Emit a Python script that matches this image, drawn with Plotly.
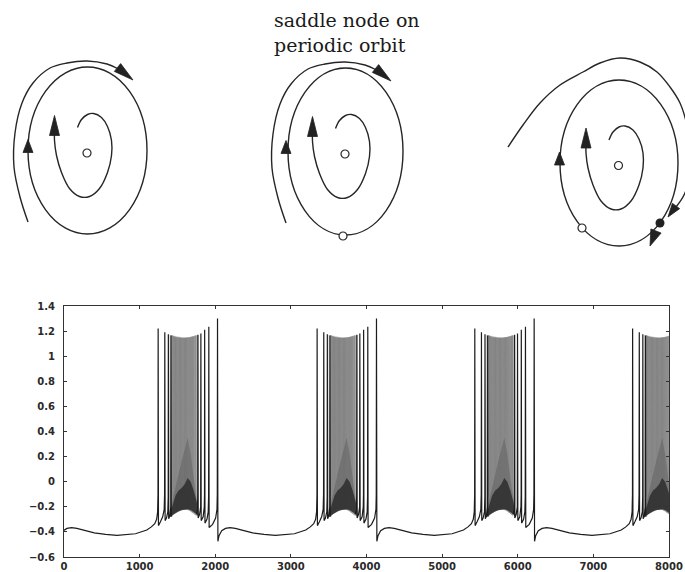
import plotly.graph_objects as go

# ===================== time-series data =====================
x_tick_vals = [0, 1000, 2000, 3000, 4000, 5000, 6000, 7000, 8000]
y_tick_vals = [-0.6, -0.4, -0.2, 0, 0.2, 0.4, 0.6, 0.8, 1.0, 1.2, 1.4]

# time of the first spike of every burst (the first one lies before t = 0)
burst_starts = [-850, 1245, 3347, 5432, 7519]

# voltage trace of one burst cycle: time offset from the first spike, value
wave_t = [-300, -220, -150, -90, -45, -20, -7, -2,
          0, 4, 30, 60, 80, 85,
          88, 92, 110, 128, 133,
          135, 139, 155, 167,
          170, 174, None,
          505, 520, 523,
          525, 529, 548, 562,
          565, 569, 595, 610, 613,
          615, 619, 645, 662, 667,
          670, 674, 720, 760, 778, 782,
          785, 790, 805, 840, 890, 950, 1020, 1120, 1250, 1400, 1550]
wave_v = [-0.415, -0.40, -0.385, -0.36, -0.335, -0.30, -0.24, -0.10,
          1.22, -0.35, -0.32, -0.28, -0.22, -0.10,
          1.19, -0.31, -0.29, -0.24, -0.12,
          1.175, -0.295, -0.27, -0.20,
          1.165, -0.28, None,
          -0.26, -0.22, -0.10,
          1.17, -0.29, -0.26, -0.20,
          1.18, -0.31, -0.28, -0.20, -0.10,
          1.21, -0.33, -0.30, -0.24, -0.12,
          1.235, -0.365, -0.34, -0.29, -0.22, -0.10,
          1.30, -0.475, -0.43, -0.39, -0.372, -0.366, -0.372, -0.388, -0.408, -0.42, -0.427]

# dense spikes inside each burst
dense_t = [183, 195, 206, 218, 229, 240, 251, 262, 273, 284, 295, 306, 317, 328,
           339, 350, 361, 372, 383, 394, 406, 418, 430, 443, 456, 470, 486, 500]
dense_peak = [1.166, 1.162, 1.159, 1.156, 1.154, 1.152, 1.151, 1.150, 1.149, 1.148,
              1.148, 1.147, 1.147, 1.147, 1.147, 1.147, 1.148, 1.148, 1.149, 1.150,
              1.151, 1.152, 1.154, 1.156, 1.158, 1.161, 1.164, 1.167]
dense_trough = [-0.275, -0.265, -0.257, -0.250, -0.244, -0.239, -0.235, -0.231, -0.228,
                -0.225, -0.223, -0.221, -0.220, -0.219, -0.219, -0.219, -0.220, -0.221,
                -0.223, -0.226, -0.229, -0.233, -0.238, -0.244, -0.250, -0.257, -0.265, -0.275]

# envelopes of the shaded burst interior
env_t = [150, 190, 230, 270, 310, 350, 390, 430, 470, 510, 540]
env_hi = [1.17, 1.165, 1.158, 1.153, 1.15, 1.148, 1.148, 1.15, 1.155, 1.163, 1.17]
env_lo = [-0.285, -0.265, -0.25, -0.238, -0.228, -0.222, -0.22, -0.225, -0.24, -0.26, -0.285]
mid_top = [-0.25, -0.14, -0.04, 0.06, 0.16, 0.26, 0.35, 0.22, 0.05, -0.12, -0.25]
dark_top = [-0.27, -0.19, -0.11, -0.07, -0.05, -0.02, 0.03, 0.0, -0.07, -0.16, -0.27]

# ===================== phase-portrait schematics =====================
panel_x = [87.5, 345.5, 619.0]
panel_y = [150.5, 151.5, 163.0]
orbit_rx = [59.5, 57.5, 59.0]
orbit_ry = [83.5, 83.5, 83.0]

inner_x = [-10, -6, 0, 6, 14, 20, 24, 24, 20, 12, 2, -8, -18, -26, -31, -33, -33]
inner_y = [-23, -31, -36, -37, -33, -24, -10, 5, 22, 38, 46, 46, 38, 22, 5, -10, -18]

outer_a_x = [-59.5, -67.5, -73.5, -72.5, -65.5, -54.5, -37.5, -20.5, -0.5, 19.5, 30]
outer_a_y = [71.5, 46.5, 16.5, -17.5, -47.5, -67.5, -82.5, -87.5, -89.5, -86.5, -82]

outer_b_x = [-111, -96, -79, -59, -36, -19, 1, 21, 38, 51, 61, 68, 72, 71, 65, 57]
outer_b_y = [-16, -38, -60, -78, -91, -100, -105, -101, -91, -76, -60, -38, -13, 12, 32, 44]

# arrows: (tip_x, tip_y, base_x, base_y, width)
arrows_common = [(-33, -35, -33, -15, 10), (-59.5, -11, -59.5, 2, 10)]
arrows_panel = [
    [(45.5, -70.5, 30, -83, 10)],
    [(45.5, -70.5, 30, -83, 10)],
    [(49, 54, 57, 43, 9), (31, 83, 37, 68, 11)],
]
open_pts = [[(-0.5, 2.5)], [(-0.5, 2.5), (-2.5, 84.5)], [(-0.5, 2.5), (-37, 65)]]
filled_pts = [[], [], [(41, 60)]]

title_text = "saddle node on<br>periodic orbit"

INK = "#262626"

fig = go.Figure()

# ---------- bottom chart ----------
for T in burst_starts:
    ex = [T + t for t in env_t] + [T + t for t in env_t[::-1]]
    fig.add_trace(go.Scatter(x=ex, y=env_hi + env_lo[::-1], fill="toself", mode="lines",
                             line=dict(width=0), fillcolor="#cfcfcf",
                             xaxis="x", yaxis="y", hoverinfo="skip", showlegend=False))
for T in burst_starts:
    dx, dy = [], []
    for t, p, tr in zip(dense_t, dense_peak, dense_trough):
        dx += [T + t - 2, T + t, T + t + 3]
        dy += [-0.12, p, tr]
    fig.add_trace(go.Scatter(x=dx, y=dy, mode="lines", line=dict(color="#7a7a7a", width=0.6),
                             xaxis="x", yaxis="y", hoverinfo="skip", showlegend=False))
for T in burst_starts:
    ex = [T + t for t in env_t] + [T + t for t in env_t[::-1]]
    fig.add_trace(go.Scatter(x=ex, y=mid_top + env_lo[::-1], fill="toself", mode="lines",
                             line=dict(width=0), fillcolor="rgba(70,70,70,0.32)",
                             xaxis="x", yaxis="y", hoverinfo="skip", showlegend=False))
    fig.add_trace(go.Scatter(x=ex, y=dark_top + env_lo[::-1], fill="toself", mode="lines",
                             line=dict(width=0), fillcolor="rgba(30,30,30,0.7)",
                             xaxis="x", yaxis="y", hoverinfo="skip", showlegend=False))

wx, wy = [], []
for T in burst_starts:
    for t, v in zip(wave_t, wave_v):
        wx.append(None if t is None else T + t)
        wy.append(v)
fig.add_trace(go.Scatter(x=wx, y=wy, mode="lines", connectgaps=False,
                         line=dict(color="#1c1c1c", width=1.2),
                         xaxis="x", yaxis="y", hoverinfo="skip", showlegend=False))

# ---------- top schematics ----------
shapes = []
for k in range(3):
    ox, oy = panel_x[k], panel_y[k]
    shapes.append(dict(type="circle", xref="x2", yref="y2",
                       x0=ox - orbit_rx[k], x1=ox + orbit_rx[k],
                       y0=oy - orbit_ry[k], y1=oy + orbit_ry[k],
                       line=dict(color=INK, width=1.4), layer="below"))
    fig.add_trace(go.Scatter(x=[ox + v for v in inner_x], y=[oy + v for v in inner_y],
                             mode="lines", line=dict(color=INK, width=1.4, shape="spline", smoothing=1.0),
                             xaxis="x2", yaxis="y2", hoverinfo="skip", showlegend=False))
    ax_, ay_ = (outer_b_x, outer_b_y) if k == 2 else (outer_a_x, outer_a_y)
    fig.add_trace(go.Scatter(x=[ox + v for v in ax_], y=[oy + v for v in ay_],
                             mode="lines", line=dict(color=INK, width=1.4, shape="spline", smoothing=1.0),
                             xaxis="x2", yaxis="y2", hoverinfo="skip", showlegend=False))
    for (tx, ty, bx, by, w) in arrows_common + arrows_panel[k]:
        ddx, ddy = tx - bx, ty - by
        n = (ddx ** 2 + ddy ** 2) ** 0.5
        nx, ny = -ddy / n, ddx / n
        px = [tx, bx + nx * w / 2, bx - nx * w / 2, tx]
        py = [ty, by + ny * w / 2, by - ny * w / 2, ty]
        fig.add_trace(go.Scatter(x=[ox + v for v in px], y=[oy + v for v in py],
                                 mode="lines", fill="toself", fillcolor="#222222",
                                 line=dict(color="#222222", width=0.8),
                                 xaxis="x2", yaxis="y2", hoverinfo="skip", showlegend=False))
    if filled_pts[k]:
        fig.add_trace(go.Scatter(x=[ox + p[0] for p in filled_pts[k]], y=[oy + p[1] for p in filled_pts[k]],
                                 mode="markers", marker=dict(symbol="circle", size=9, color="#222222"),
                                 xaxis="x2", yaxis="y2", hoverinfo="skip", showlegend=False))
    fig.add_trace(go.Scatter(x=[ox + p[0] for p in open_pts[k]], y=[oy + p[1] for p in open_pts[k]],
                             mode="markers",
                             marker=dict(symbol="circle", size=8, color="white",
                                         line=dict(color=INK, width=1.2)),
                             xaxis="x2", yaxis="y2", hoverinfo="skip", showlegend=False))

tick_font = dict(family="DejaVu Sans", size=10, color="#2a2a2a", weight="bold")
fig.update_layout(
    width=685, height=572,
    margin=dict(l=0, r=0, t=0, b=0),
    paper_bgcolor="white", plot_bgcolor="white",
    shapes=shapes,
    xaxis=dict(domain=[64 / 685, 669 / 685], range=[0, 8000], tickvals=x_tick_vals,
               ticks="inside", ticklen=3, tickcolor="#333", showline=True, linecolor="#333",
               linewidth=1, mirror="ticks", showgrid=False, zeroline=False,
               tickfont=tick_font, automargin=False, anchor="y"),
    yaxis=dict(domain=[1 - 557 / 572, 1 - 306 / 572], range=[-0.6, 1.4], tickvals=y_tick_vals,
               ticks="inside", ticklen=3, tickcolor="#333", showline=True, linecolor="#333",
               linewidth=1, mirror="ticks", showgrid=False, zeroline=False,
               tickfont=tick_font, automargin=False, anchor="x", ticklabelstandoff=6),
    xaxis2=dict(domain=[0, 1], range=[0, 685], visible=False, anchor="y2", fixedrange=True),
    yaxis2=dict(domain=[1 - 270 / 572, 1], range=[270, 0], visible=False, anchor="x2", fixedrange=True),
    annotations=[
        dict(text=title_text, x=272, y=32, xref="x2", yref="y2", xanchor="left",
             yanchor="middle", align="left", showarrow=False,
             font=dict(family="DejaVu Serif", size=19, color="#1a1a1a")),
    ],
)

fig.write_html("out.html", config={"displayModeBar": False},
               post_script="document.body.style.margin='0px';document.body.style.padding='0px';"
                           "document.body.style.overflow='hidden';")
